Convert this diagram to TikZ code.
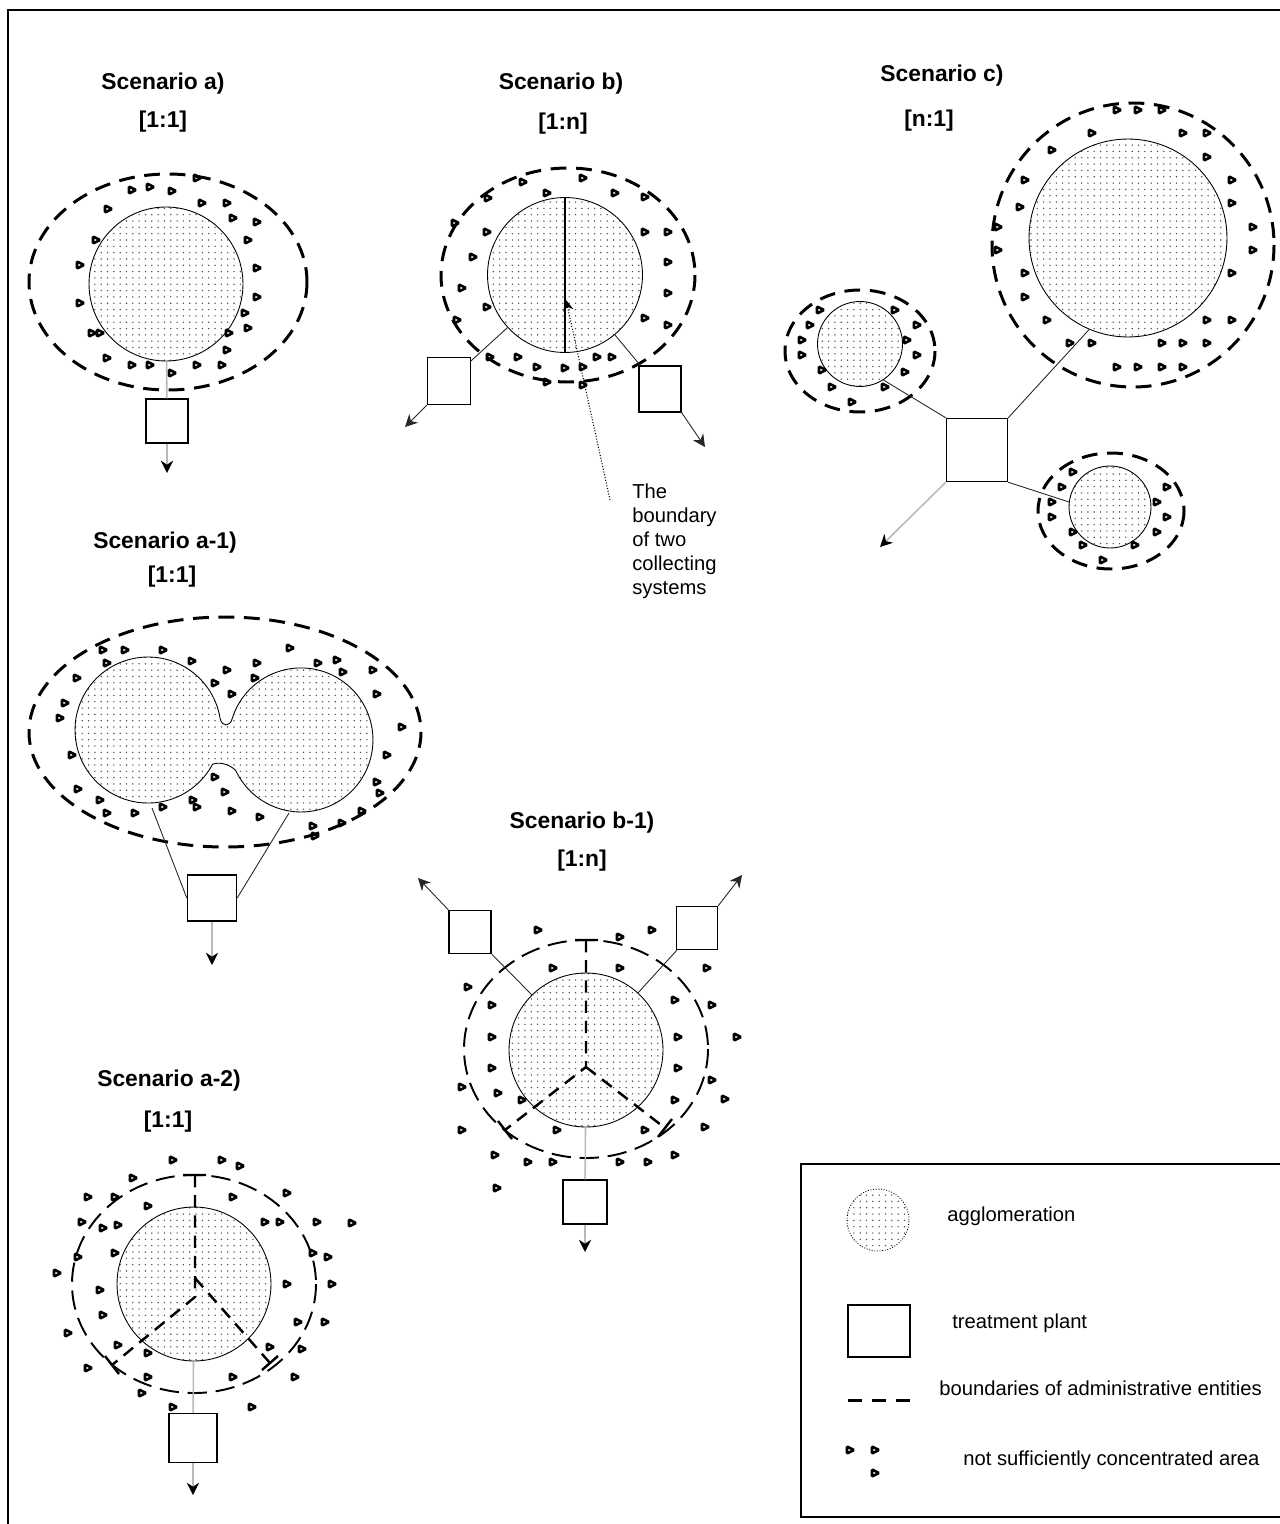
\documentclass[tikz,border=0pt]{standalone}
\usepackage{fontspec}
\setmainfont{Liberation Sans}
\usetikzlibrary{patterns.meta,arrows.meta}
\definecolor{pipeGray}{RGB}{185,185,185}
\definecolor{dotGray}{RGB}{80,80,80}
\tikzstyle{agglomerationFill} = [draw, line width=0.5pt, pattern={Dots[distance=3.6pt, radius=0.45pt]}, pattern color=dotGray]
\tikzstyle{agglomeration} = [circle, agglomerationFill, inner sep=0]
\tikzstyle{plant} = [draw, line width=0.8pt, fill=white, inner sep=0]
\tikzstyle{adminLine} = [line width=1.7pt, dash pattern=on 9pt off 5.5pt]
\tikzstyle{adminLineThin} = [line width=1.1pt, dash pattern=on 11pt off 5pt]
\tikzstyle{splitLine} = [line width=1.4pt, dash pattern=on 7pt off 4.5pt]
\tikzstyle{capLine} = [line width=1.4pt]
\tikzstyle{spotStyle} = [line width=1.5pt, rounded corners=0.6pt]
\tikzstyle{pipeLine} = [color=pipeGray, line width=0.9pt]
\tikzstyle{pipe} = [pipeLine, -{Stealth[color=black, length=7pt, width=7pt]}]
\tikzstyle{link} = [color=black!85, line width=0.5pt]
\tikzstyle{outflow} = [link, -{Stealth[length=7pt, width=7pt]}]
\tikzstyle{titleText} = [font=\fontsize{13}{15}\selectfont\bfseries]
\tikzstyle{labelText} = [font=\fontsize{11.5}{13.6}\selectfont, inner sep=0]
\newcommand{\spotMark}[2]{\draw[spotStyle] (#1 - 3, #2 - 3.5) -- ++(7,3.5) -- ++(-7,3.5) -- cycle;}

\begin{document}
\begin{tikzpicture}[x=0.02cm, y=-0.02cm]
\useasboundingbox (0,0) rectangle (1280,1524);
\draw[line width=0.9pt] (8,1524) -- (8,10) -- (1280,10);

% scenario a
\node[titleText] (titleA) at (163,84) {Scenario a)};
\node[titleText] (ratioA) at (163,122) {[1:1]};
\draw[adminLine] (168,282) ellipse [x radius=139, y radius=108];
\node[agglomeration, minimum size=3.08cm] (aggA) at (166,284) {};
\foreach \x/\y in {132/190,150/187,172/191,197/178,108/209,202/203,227/203,233/218,257/222,96/240,248/240,80/265,257/268,80/303,257/297,245/313,248/328,92/333,100/333,229/333,227/350,107/358,132/365,150/365,172/373,197/365,222/365}
  {\spotMark{\x}{\y}}
\node[plant, minimum width=0.84cm, minimum height=0.88cm] (plantA) at (167,421) {};
\coordinate (outA) at (167,473);
\draw[pipeLine] (aggA) -- (plantA);
\draw[pipe] (plantA) -- (outA);

% scenario b
\node[titleText] (titleB) at (561,84) {Scenario b)};
\node[titleText] (ratioB) at (563,124) {[1:n]};
\draw[adminLine] (568,275) ellipse [x radius=127, y radius=107];
\node[agglomeration, minimum size=3.1cm] (aggB) at (565,275) {};
\draw[line width=0.7pt] (aggB.north) -- (aggB.south);
\foreach \x/\y in {523/182,583/178,547/193,615/193,645/197,488/198,455/223,487/232,645/232,668/232,473/257,668/262,462/288,668/293,487/307,645/318,668/325,457/320,490/357,518/357,537/367,565/368,583/367,597/357,612/357,547/382,583/385}
  {\spotMark{\x}{\y}}
\node[plant, minimum width=0.86cm, minimum height=0.94cm] (plantB1) at (449,381) {};
\node[plant, minimum width=0.84cm, minimum height=0.92cm] (plantB2) at (660,389) {};
\coordinate (outB1) at (405,427);
\coordinate (outB2) at (705,447);
\draw[link] (aggB) -- (plantB1);
\draw[link] (aggB) -- (plantB2);
\draw[outflow] (plantB1.south west) -- (outB1);
\draw[outflow] (plantB2.south east) -- (outB2);
\node[labelText, align=left, anchor=north west] (noteB) at (632,484) {The\\boundary\\of two\\collecting\\systems};
\coordinate (tipB) at (566,300);
\draw[densely dotted, line width=0.6pt, -{Stealth[length=6pt, width=6pt]}] ([xshift=-0.44cm, yshift=-0.32cm]noteB.north west) -- (tipB);

% scenario c
\node[titleText] (titleC) at (942,76) {Scenario c)};
\node[titleText] (ratioC) at (929,121) {[n:1]};
\draw[adminLine] (1133,245) ellipse [x radius=141, y radius=142];
\draw[adminLine] (860,351) ellipse [x radius=75, y radius=61];
\draw[adminLine] (1111,511) ellipse [x radius=73, y radius=58];
\node[agglomeration, minimum size=3.96cm] (aggC1) at (1128,238) {};
\node[agglomeration, minimum size=1.7cm] (aggC2) at (860,344) {};
\node[agglomeration, minimum size=1.64cm] (aggC3) at (1110,507) {};
\foreach \x/\y in {1092/133,1183/133,1207/133,1117/110,1138/110,1162/110,1052/150,1207/157,1025/180,1232/180,1020/207,1232/203,998/227,1253/227,998/250,1253/250,1025/273,1232/273,1025/297,1047/320,1207/320,1232/320,1070/343,1092/343,1162/343,1183/343,1207/343,1117/367,1138/367,1162/367,1183/367,820/310,895/310,810/325,917/325,802/340,907/340,802/355,917/355,822/370,905/372,832/387,885/387,852/402,1062/487,1167/487,1073/472,1157/502,1052/502,1167/517,1052/517,1073/532,1157/532,1083/545,1135/545,1103/560}
  {\spotMark{\x}{\y}}
\node[plant, minimum width=1.22cm, minimum height=1.26cm] (plantC) at (977,450) {};
\coordinate (outC) at (880,547);
\draw[link] (aggC2.-57) -- (plantC.north west);
\draw[link] (aggC1.-113) -- (plantC.north east);
\draw[link] (plantC.south east) -- (aggC3.173);
\draw[pipe] (plantC.south west) -- (outC);

% scenario a-1
\node[titleText] (titleA1) at (165,543) {Scenario a-1)};
\node[titleText] (ratioA1) at (172,577) {[1:1]};
\draw[adminLine] (225,732) ellipse [x radius=196, y radius=115];
\draw[agglomerationFill] (212.5,764.3) arc[start angle=28, end angle=351, radius=73]
  .. controls (222,727) and (230,727) .. (232.1,718.9) arc[start angle=197, end angle=515, radius=72]
  .. controls (228,763) and (218,762) .. cycle;
\foreach \x/\y in {103/650,125/650,163/650,290/648,107/663,192/661,257/663,318/663,337/660,77/678,227/670,255/678,343/672,373/670,65/703,215/683,232/694,377/694,60/718,402/727,72/755,387/755,215/777,78/789,225/792,377/782,380/793,100/800,193/800,197/807,163/807,107/813,135/813,232/811,260/817,362/811,313/826,342/823,315/836}
  {\spotMark{\x}{\y}}
\node[plant, minimum width=0.98cm, minimum height=0.92cm] (plantA1) at (212,898) {};
\coordinate (leftA1) at (152,808);
\coordinate (rightA1) at (289,813);
\coordinate (outA1) at (212,965);
\draw[link] (leftA1) -- (plantA1.west);
\draw[link] (rightA1) -- (plantA1.east);
\draw[pipe] (plantA1) -- (outA1);

% scenario b-1
\node[titleText] (titleB1) at (582,823) {Scenario b-1)};
\node[titleText] (ratioB1) at (582,861) {[1:n]};
\draw[adminLineThin] (586,1049) ellipse [x radius=122, y radius=109];
\node[agglomeration, minimum size=3.08cm] (aggB1) at (586,1050) {};
\draw[splitLine] (586,940) -- (586,1067) -- (505,1130) (586,1067) -- (665,1128);
\draw[capLine] (575,940) -- (598,940) (498,1121) -- (512,1139) (658,1137) -- (672,1119);
\foreach \x/\y in {538/930,620/937,652/930,553/968,620/968,707/968,468/987,492/1005,675/1000,712/1005,492/1037,678/1037,737/1037,492/1068,678/1068,462/1087,712/1080,498/1093,522/1100,675/1100,725/1099,462/1130,557/1130,645/1130,705/1127,495/1155,528/1162,553/1162,620/1162,648/1162,675/1155,497/1188}
  {\spotMark{\x}{\y}}
\node[plant, minimum width=0.84cm, minimum height=0.86cm] (plantB1a) at (470,932) {};
\node[plant, minimum width=0.82cm, minimum height=0.86cm] (plantB1b) at (697,928) {};
\node[plant, minimum width=0.88cm, minimum height=0.88cm] (plantB1c) at (585,1202) {};
\coordinate (outB1a) at (418,878);
\coordinate (outB1b) at (742,875);
\coordinate (outB1c) at (585,1252);
\draw[link] (aggB1) -- (plantB1a);
\draw[link] (aggB1) -- (plantB1b);
\draw[pipeLine] (aggB1) -- (plantB1c);
\draw[outflow] (plantB1a.north west) -- (outB1a);
\draw[outflow] (plantB1b.north east) -- (outB1b);
\draw[pipe] (plantB1c) -- (outB1c);

% scenario a-2
\node[titleText] (titleA2) at (169,1081) {Scenario a-2)};
\node[titleText] (ratioA2) at (168,1122) {[1:1]};
\draw[adminLineThin] (194,1284) ellipse [x radius=122, y radius=109];
\node[agglomeration, minimum size=3.08cm] (aggA2) at (194,1284) {};
\draw[splitLine] (195,1175) -- (195,1297) -- (112,1365) (195,1278) -- (270,1363);
\draw[capLine] (183,1175) -- (206,1175) (105,1356) -- (119,1374) (262,1370) -- (278,1356);
\foreach \x/\y in {173/1160,222/1160,240/1166,133/1178,88/1197,115/1197,233/1197,287/1193,148/1206,82/1222,103/1228,118/1225,265/1222,280/1222,317/1222,352/1223,78/1257,115/1253,313/1253,328/1257,57/1273,100/1290,287/1284,332/1284,103/1315,298/1322,325/1322,68/1333,118/1345,148/1353,270/1347,302/1349,88/1368,148/1377,233/1377,295/1377,142/1393,173/1407,252/1407}
  {\spotMark{\x}{\y}}
\node[plant, minimum width=0.96cm, minimum height=0.98cm] (plantA2) at (193,1438) {};
\coordinate (outA2) at (193,1495);
\draw[pipeLine] (aggA2) -- (plantA2);
\draw[pipe] (plantA2) -- (outA2);

% legend
\draw[line width=0.9pt] (1280,1164) -- (801,1164) -- (801,1517) -- (1280,1517);
\node[agglomeration, densely dotted, minimum size=1.24cm] (keyAgg) at (878,1220) {};
\node[labelText, anchor=west] (keyAggText) at (947,1216) {agglomeration};
\node[plant, minimum width=1.24cm, minimum height=1.04cm] (keyPlant) at (879,1331) {};
\node[labelText, anchor=west] (keyPlantText) at (952,1323) {treatment plant};
\draw[line width=1.7pt, dash pattern=on 7.9pt off 5.7pt] (848,1400) -- (910,1400);
\node[labelText, anchor=west] (keyAdminText) at (939,1388) {boundaries of administrative entities};
\foreach \x/\y in {850/1450,875/1450,875/1473}
  {\spotMark{\x}{\y}}
\node[labelText, anchor=west] (keySpotText) at (963,1460) {not sufficiently concentrated area};
\end{tikzpicture}
\end{document}
